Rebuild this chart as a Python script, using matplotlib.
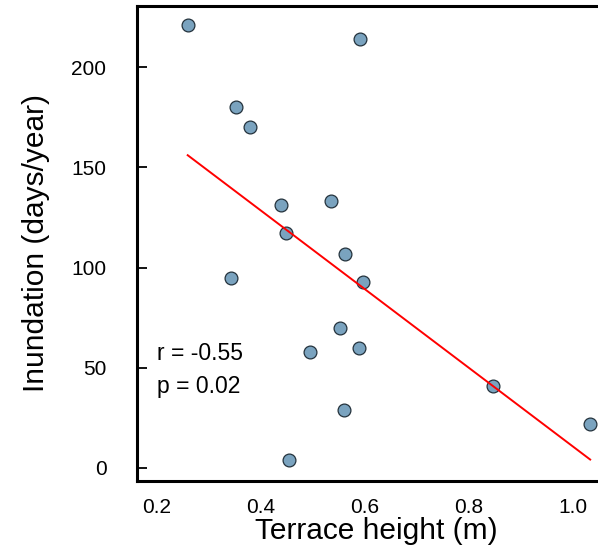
import matplotlib
matplotlib.use("Agg")
import matplotlib.pyplot as plt
import numpy as np

# terrace height (m) and inundation (days/year)
terrace_height = [0.259, 0.590, 0.352, 0.378, 0.438, 0.448, 0.535, 0.562, 0.597,
                  0.342, 0.494, 0.552, 0.589, 0.560, 0.847, 1.033, 0.454]
inundation = [221, 214, 180, 170, 131, 117, 133, 107, 93,
              95, 58, 70, 60, 29, 41, 22, 4]
x_ticks = [0.2, 0.4, 0.6, 0.8, 1.0]
y_ticks = [0, 50, 100, 150, 200]
r_text = "r = -0.55"
p_text = "p = 0.02"

plt.rcParams["font.family"] = ["Liberation Sans", "DejaVu Sans"]

fig = plt.figure(figsize=(5.98, 5.53), dpi=100)
ax = fig.add_axes([0.2291, 0.1302, 0.80, 0.859])

x = np.array(terrace_height)
y = np.array(inundation)

ax.scatter(x, y, s=85, facecolor="#7aa3bf", edgecolor="#24323c",
           linewidth=0.9, zorder=2)

# least squares line across the data range, drawn over the points
slope, intercept = np.polyfit(x, y, 1)
xs = np.array([x.min(), x.max()])
ax.plot(xs, slope * xs + intercept, color="red", lw=1.4, zorder=3)

ax.set_xlim(0.1615, 0.1615 + (0.80 * 598) / 520)
ax.set_ylim(-6.5, 230.5)

ax.set_xticks(x_ticks)
ax.set_xticklabels(["0.2", "0.4", "0.6", "0.8", "1.0"])
ax.set_yticks(y_ticks)

ax.tick_params(axis="x", length=0, labelsize=15, pad=12)
ax.tick_params(axis="y", direction="in", length=7, width=1.3,
               labelsize=15, pad=22)

for side in ["left", "bottom", "top"]:
    ax.spines[side].set_linewidth(2.2)
ax.spines["right"].set_visible(False)

ax.set_xlabel("Terrace height (m)", fontsize=21.5, labelpad=0)
ax.set_ylabel("Inundation (days/year)", fontsize=21.5, labelpad=15)

ax.text(0.2, 57, r_text, fontsize=16.5, va="center")
ax.text(0.2, 40.5, p_text, fontsize=16.5, va="center")

fig.savefig("out.png", dpi=100)
